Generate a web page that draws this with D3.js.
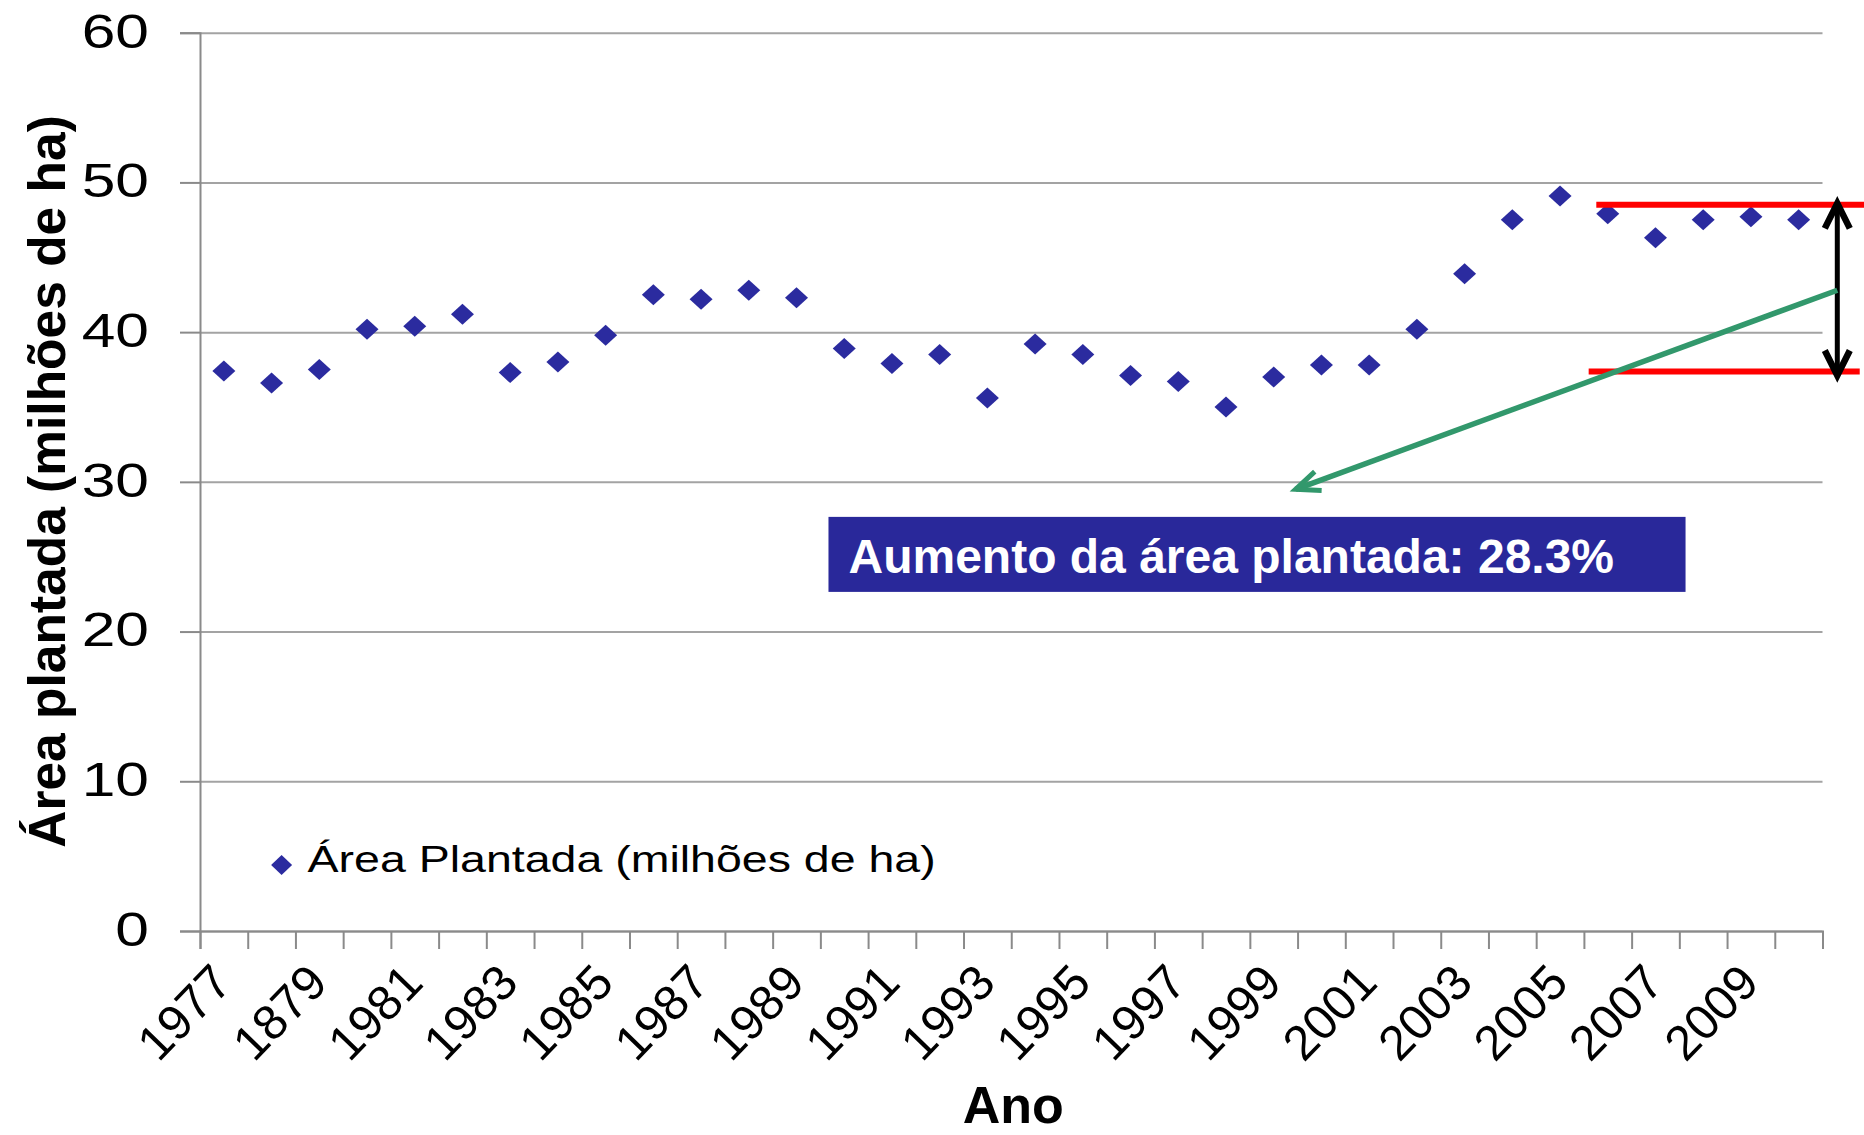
<!DOCTYPE html>
<html>
<head>
<meta charset="utf-8">
<script src="https://cdn.jsdelivr.net/npm/d3@7"></script>
<style>
  body { margin: 0; background: #fff; }
  svg { display: block; font-family: "Liberation Sans", Arial, sans-serif; }
</style>
</head>
<body>
<div id="chart"></div>
<script>
// data
var years = ["1977", "1978", "1979", "1980", "1981", "1982", "1983", "1984", "1985", "1986",
             "1987", "1988", "1989", "1990", "1991", "1992", "1993", "1994", "1995", "1996",
             "1997", "1998", "1999", "2000", "2001", "2002", "2003", "2004", "2005", "2006",
             "2007", "2008", "2009", "2010"];
var area = [37.4, 36.6, 37.5, 40.2, 40.4, 41.2, 37.3, 38.0, 39.8, 42.5,
            42.2, 42.8, 42.3, 38.9, 37.9, 38.5, 35.6, 39.2, 38.5, 37.1,
            36.7, 35.0, 37.0, 37.8, 37.8, 40.2, 43.9, 47.5, 49.1, 47.9,
            46.3, 47.5, 47.7, 47.5];
// every other year gets a label (the "1879" typo is in the original)
var tickLabels = ["1977", "1879", "1981", "1983", "1985", "1987", "1989", "1991", "1993",
                  "1995", "1997", "1999", "2001", "2003", "2005", "2007", "2009"];
var yTicks = [0, 10, 20, 30, 40, 50, 60];
var seriesName = "Área Plantada (milhões de ha)";
var noteText = "Aumento da área plantada: 28.3%";

var svgWidth = 1864;
var svgHeight = 1135;
var margin = { top: 32.7, right: 41.5, bottom: 204, left: 200 };
var width = svgWidth - margin.left - margin.right;
var height = svgHeight - margin.top - margin.bottom;

var svg = d3.select("#chart").append("svg")
    .attr("width", svgWidth)
    .attr("height", svgHeight);

var chartGroup = svg.append("g")
    .attr("transform", `translate(${margin.left}, ${margin.top})`);

// x: category position, 0..n (band edges), points sit at i + 0.5
var x = d3.scaleLinear().domain([0, years.length]).range([0, width]);
var y = d3.scaleLinear().domain([0, 60]).range([height, 0]);

var gridColor = "#a3a3a3";
var axisColor = "#8a8a8a";

// gridlines
chartGroup.append("g")
    .call(d3.axisLeft(y).tickValues(yTicks).tickSize(-width).tickFormat(""))
    .call(g => g.select(".domain").remove())
    .call(g => g.selectAll("line").attr("stroke", gridColor).attr("stroke-width", 2));

// y axis
var yAxis = chartGroup.append("g")
    .call(d3.axisLeft(y).tickValues(yTicks).tickSize(20).tickPadding(31));
yAxis.select(".domain").attr("stroke", axisColor).attr("stroke-width", 2);
yAxis.selectAll("line").attr("stroke", axisColor).attr("stroke-width", 2);
yAxis.selectAll("text")
    .attr("fill", "#000")
    .style("font-size", "48px")
    .attr("dy", "0.3em")
    .attr("textLength", function() { return this.getComputedTextLength() * 1.26; })
    .attr("lengthAdjust", "spacingAndGlyphs");

// x axis ticks at category edges
var xAxis = chartGroup.append("g")
    .attr("transform", `translate(0, ${height})`)
    .call(d3.axisBottom(x).tickValues(d3.range(years.length + 1)).tickSize(18).tickFormat(""));
xAxis.select(".domain").attr("stroke", axisColor).attr("stroke-width", 2);
xAxis.selectAll("line").attr("stroke", axisColor).attr("stroke-width", 2);

// rotated year labels
chartGroup.append("g")
    .selectAll("text")
    .data(tickLabels)
    .enter()
    .append("text")
    .attr("transform", (d, i) => `translate(${x(i * 2 + 0.5) - 2}, ${height + 42}) rotate(-46)`)
    .attr("text-anchor", "end")
    .attr("dy", "0.35em")
    .style("font-size", "49px")
    .attr("fill", "#000")
    .text(d => d);

// diamonds
function diamond(cx, cy, hw, hh) {
    return `M${cx},${cy - hh}L${cx + hw},${cy}L${cx},${cy + hh}L${cx - hw},${cy}Z`;
}
var markerColor = "#2b2b9f";
chartGroup.append("g")
    .selectAll("path")
    .data(area)
    .enter()
    .append("path")
    .attr("d", (d, i) => diamond(x(i + 0.5), y(d), 11.5, 10.5))
    .attr("fill", markerColor);

// legend
var legend = chartGroup.append("g")
    .attr("transform", `translate(${x(1.71)}, ${y(4.4)})`);
legend.append("path")
    .attr("d", diamond(0, 0, 10.5, 10))
    .attr("fill", markerColor);
legend.append("text")
    .attr("x", 26)
    .attr("y", 7)
    .style("font-size", "37.5px")
    .attr("fill", "#000")
    .text(seriesName)
    .attr("textLength", function() { return this.getComputedTextLength() * 1.24; })
    .attr("lengthAdjust", "spacingAndGlyphs");

// axis titles
svg.append("text")
    .attr("transform", `translate(65, 481.5) rotate(-90)`)
    .attr("text-anchor", "middle")
    .style("font-size", "51.5px")
    .style("font-weight", "bold")
    .attr("fill", "#000")
    .text("Área plantada (milhões de ha)");

svg.append("text")
    .attr("x", margin.left + width / 2 + 2)
    .attr("y", 1123)
    .attr("text-anchor", "middle")
    .style("font-size", "52px")
    .style("font-weight", "bold")
    .attr("fill", "#000")
    .text("Ano");

// annotations (placed in data units)
var anno = chartGroup.append("g");

// red reference lines
anno.append("line")
    .attr("x1", x(29.26)).attr("x2", x(34.9))
    .attr("y1", y(48.5)).attr("y2", y(48.5))
    .attr("stroke", "#ff0000").attr("stroke-width", 6);
anno.append("line")
    .attr("x1", x(29.1)).attr("x2", x(34.78))
    .attr("y1", y(37.37)).attr("y2", y(37.37))
    .attr("stroke", "#ff0000").attr("stroke-width", 6);

function arrowHead(g, tip, from, len, hw, color, sw) {
    var dx = tip[0] - from[0], dy = tip[1] - from[1];
    var l = Math.sqrt(dx * dx + dy * dy);
    var ux = dx / l, uy = dy / l;
    var bx = tip[0] - ux * len, by = tip[1] - uy * len;
    g.append("path")
        .attr("d", `M${bx - uy * hw},${by + ux * hw}L${tip[0]},${tip[1]}L${bx + uy * hw},${by - ux * hw}`)
        .attr("fill", "none")
        .attr("stroke", color)
        .attr("stroke-width", sw)
        .attr("stroke-linejoin", "miter");
}

// black double arrow
var bTop = [x(34.31), y(48.8)];
var bBot = [x(34.31), y(36.9)];
anno.append("line")
    .attr("x1", bTop[0]).attr("y1", bTop[1] + 3)
    .attr("x2", bBot[0]).attr("y2", bBot[1] - 3)
    .attr("stroke", "#000").attr("stroke-width", 5);
arrowHead(anno, [bTop[0], bTop[1] + 3], bBot, 25, 12.5, "#000", 6.5);
arrowHead(anno, [bBot[0], bBot[1] - 3], bTop, 25, 12.5, "#000", 6.5);

// green pointer
var gStart = [x(34.31), y(42.8)];
var gEnd = [x(22.96), y(29.5)];
anno.append("line")
    .attr("x1", gStart[0]).attr("y1", gStart[1])
    .attr("x2", gEnd[0]).attr("y2", gEnd[1])
    .attr("stroke", "#32986c").attr("stroke-width", 5.5);
arrowHead(anno, gEnd, gStart, 24, 10, "#32986c", 5);

// note box
var boxX0 = x(13.17), boxX1 = x(31.13);
var boxY0 = y(27.66), boxY1 = y(22.65);
anno.append("rect")
    .attr("x", boxX0).attr("y", boxY0)
    .attr("width", boxX1 - boxX0).attr("height", boxY1 - boxY0)
    .attr("fill", "#29289a");
anno.append("text")
    .attr("x", boxX0 + 20)
    .attr("y", boxY0 + 56)
    .style("font-size", "48px")
    .style("font-weight", "bold")
    .attr("fill", "#fff")
    .text(noteText);
</script>
</body>
</html>
